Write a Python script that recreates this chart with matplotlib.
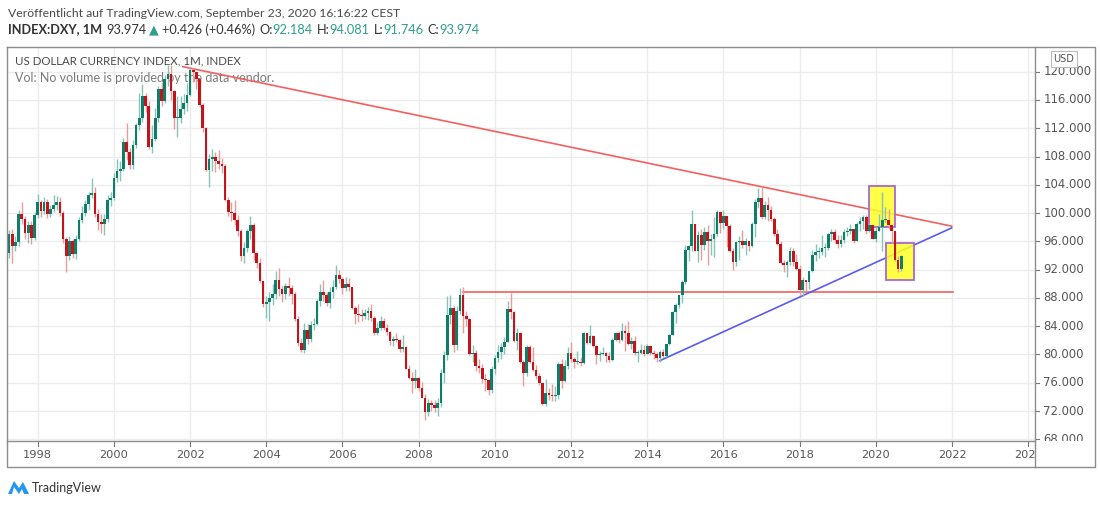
import matplotlib
matplotlib.use("Agg")
import matplotlib.pyplot as plt
import matplotlib.transforms as mtransforms
from matplotlib.patches import Rectangle, Polygon

# monthly candles of the DXY index, first one is April 1997
start_year = 1997
start_month = 4
first_open = 94.4

closes = [
    97.1, 95.3, 95.9, 99.8, 99.2, 97.2, 98.3, 96.5, 99.7,                      # 1997
    101.5, 100.3, 101.6, 99.8, 100.6, 101.2, 101.6, 100.0, 96.4, 93.9, 96.0, 94.2,   # 1998
    96.3, 99.0, 100.0, 101.3, 102.6, 102.9, 99.9, 98.7, 98.4, 99.2, 101.9, 102.1,    # 1999
    104.9, 105.9, 106.3, 110.1, 108.7, 106.8, 109.6, 112.4, 113.4, 116.5, 115.2, 109.4,  # 2000
    110.5, 113.4, 117.6, 115.8, 119.0, 119.7, 117.2, 113.5, 113.5, 114.7, 115.5, 116.7,  # 2001
    120.3, 119.9, 119.0, 115.3, 112.0, 106.1, 107.6, 107.9, 107.3, 107.0, 106.7, 101.9,  # 2002
    100.2, 100.0, 99.0, 97.4, 93.9, 95.0, 97.4, 98.3, 94.4, 93.0, 90.4, 87.1,        # 2003
    87.4, 88.0, 88.5, 90.6, 89.2, 88.6, 89.7, 89.4, 88.6, 85.0, 81.6, 80.6,          # 2004
    83.4, 82.2, 84.1, 84.3, 87.5, 88.9, 88.4, 87.3, 88.8, 89.5, 91.2, 90.7,          # 2005
    89.4, 90.0, 89.6, 86.6, 85.7, 85.6, 85.4, 85.8, 86.1, 85.2, 83.0, 83.7,          # 2006
    84.7, 83.8, 83.2, 81.9, 82.2, 82.1, 80.8, 81.0, 78.0, 76.7, 76.2, 76.7,          # 2007
    75.3, 73.9, 71.8, 73.2, 72.9, 72.4, 73.2, 77.4, 79.9, 85.6, 86.6, 81.3,          # 2008
    86.2, 88.4, 85.4, 85.0, 80.1, 80.2, 78.4, 78.1, 76.6, 76.4, 75.0, 77.9,          # 2009
    79.5, 80.4, 81.0, 81.8, 86.5, 86.0, 81.9, 83.1, 78.9, 77.4, 81.0, 79.0,          # 2010
    77.8, 76.9, 75.9, 73.0, 74.6, 74.3, 74.1, 74.2, 78.6, 76.3, 78.4, 80.2,          # 2011
    79.4, 78.9, 79.0, 78.8, 83.1, 81.6, 82.6, 81.2, 79.9, 80.1, 80.2, 79.8,          # 2012
    79.2, 82.1, 83.0, 82.0, 83.3, 83.1, 81.5, 81.9, 80.2, 80.2, 80.7, 80.0,          # 2013
    81.2, 80.2, 80.1, 79.5, 80.4, 79.8, 81.5, 82.8, 86.0, 87.0, 88.4, 90.3,          # 2014
    94.8, 95.3, 98.4, 94.6, 96.9, 95.5, 97.3, 96.0, 96.3, 97.0, 100.2, 98.6,         # 2015
    99.6, 98.2, 94.6, 93.1, 95.9, 96.1, 95.5, 96.0, 95.4, 98.4, 101.5, 102.2,        # 2016
    99.5, 101.1, 100.4, 99.1, 97.0, 95.6, 92.9, 92.7, 93.1, 94.6, 93.1, 92.1,        # 2017
    89.1, 90.6, 90.2, 91.8, 94.0, 94.5, 94.5, 95.1, 95.1, 97.1, 97.3, 96.2,          # 2018
    95.6, 96.2, 97.3, 97.5, 97.8, 96.1, 98.5, 98.9, 99.4, 97.4, 98.3, 96.4,          # 2019
    97.4, 98.1, 99.0, 99.0, 98.3, 97.4, 93.3, 92.1, 93.974,                          # 2020
]

highs = [
    97.6, 97.7, 96.8, 100.4, 101.6, 99.6, 98.9, 98.9, 100.1,
    102.7, 101.9, 102.3, 102.0, 101.2, 102.5, 102.4, 102.3, 100.3, 96.6, 96.8, 96.3,
    96.9, 99.5, 101.0, 101.8, 103.0, 105.0, 103.7, 100.6, 99.9, 99.8, 102.5, 103.0,
    105.6, 107.6, 107.3, 110.6, 112.7, 109.2, 110.3, 112.8, 117.0, 118.3, 117.0, 115.8,
    112.4, 114.8, 118.0, 118.5, 119.6, 121.0, 121.0, 117.4, 116.6, 116.5, 116.9, 118.4,
    120.5, 120.5, 120.0, 119.1, 115.6, 112.2, 108.3, 109.1, 108.6, 108.9, 107.8, 106.9,
    102.3, 101.5, 101.9, 99.7, 97.8, 95.9, 97.8, 99.6, 98.6, 94.5, 93.6, 90.4,
    88.2, 88.9, 89.9, 91.8, 92.3, 89.7, 90.1, 90.9, 89.8, 88.8, 85.4, 82.3,
    84.5, 84.3, 84.7, 85.2, 87.8, 89.9, 90.5, 88.9, 89.5, 90.5, 92.6, 92.0,
    91.0, 90.9, 90.8, 89.6, 86.8, 87.2, 86.5, 86.4, 86.7, 87.1, 85.5, 84.6,
    85.5, 85.1, 84.3, 83.3, 82.6, 83.0, 82.2, 82.8, 81.2, 78.5, 77.5, 77.9,
    76.8, 76.1, 74.4, 73.7, 73.6, 73.5, 73.8, 77.9, 80.5, 88.3, 88.4, 86.9,
    86.9, 89.4, 89.6, 86.1, 85.2, 81.4, 80.7, 79.3, 78.6, 77.2, 76.5, 78.3,
    79.9, 81.3, 81.6, 82.5, 87.5, 88.7, 86.2, 83.7, 83.2, 79.2, 81.4, 81.4,
    81.0, 78.5, 77.4, 76.0, 76.6, 75.3, 75.8, 75.5, 78.9, 79.4, 79.2, 81.0,
    81.8, 79.6, 80.5, 79.7, 83.2, 83.0, 84.1, 82.7, 81.4, 80.5, 81.1, 80.4,
    80.4, 82.3, 83.2, 83.3, 84.5, 84.2, 84.8, 82.5, 82.6, 80.6, 81.5, 81.3,
    81.5, 81.3, 80.7, 80.4, 80.6, 80.8, 81.5, 82.9, 86.1, 87.3, 88.4, 90.5,
    95.5, 95.5, 100.4, 98.3, 97.5, 97.8, 98.0, 98.3, 97.0, 99.4, 100.5, 100.3,
    100.5, 99.1, 98.4, 95.1, 96.1, 96.7, 97.6, 96.5, 96.1, 98.7, 102.0, 103.6,
    103.8, 101.7, 102.3, 101.0, 99.4, 97.7, 96.0, 93.4, 93.4, 95.2, 95.1, 94.2,
    92.6, 91.0, 90.6, 91.8, 94.8, 95.6, 95.2, 96.9, 95.7, 97.2, 97.7, 97.7,
    96.9, 96.9, 97.7, 98.0, 98.4, 97.8, 98.7, 99.4, 99.7, 99.7, 98.6, 98.3,
    98.0, 99.9, 103.0, 100.9, 100.6, 97.8, 97.5, 93.99, 94.081,
]

lows = [
    93.6, 93.0, 94.6, 95.4, 98.5, 96.4, 95.8, 95.6, 96.2,
    99.3, 99.5, 99.8, 99.3, 99.4, 100.1, 100.4, 99.6, 95.8, 91.6, 93.3, 93.6,
    93.5, 96.0, 98.6, 99.6, 100.4, 102.1, 99.4, 97.6, 97.2, 96.9, 98.8, 101.0,
    101.8, 104.4, 104.6, 105.9, 107.5, 106.3, 106.3, 109.2, 111.7, 112.9, 114.3, 109.1,
    108.5, 110.2, 112.9, 115.1, 115.6, 118.0, 116.0, 111.9, 110.8, 112.8, 114.0, 114.5,
    116.5, 118.6, 117.5, 115.0, 111.5, 105.9, 103.7, 105.9, 105.8, 106.2, 105.7, 101.7,
    99.6, 98.9, 98.3, 96.7, 93.2, 93.0, 94.5, 96.4, 93.4, 92.2, 90.1, 86.7,
    85.2, 84.8, 87.0, 87.8, 88.3, 87.4, 87.8, 88.2, 87.2, 84.7, 81.2, 80.4,
    80.2, 81.5, 81.7, 83.4, 84.2, 86.9, 87.6, 86.8, 86.6, 88.0, 89.3, 90.1,
    88.5, 89.0, 89.0, 86.5, 84.3, 84.6, 84.8, 85.0, 84.9, 84.7, 82.7, 82.7,
    83.4, 83.5, 82.7, 81.3, 81.2, 81.8, 80.3, 80.4, 77.9, 76.5, 74.5, 75.3,
    74.9, 73.8, 70.7, 71.3, 72.0, 71.9, 71.3, 72.6, 76.0, 79.2, 84.3, 80.4,
    80.7, 85.7, 83.0, 84.0, 79.9, 79.0, 77.7, 77.4, 76.0, 74.9, 74.2, 74.5,
    77.3, 78.9, 79.3, 80.0, 81.7, 85.0, 81.7, 80.7, 78.8, 75.6, 76.9, 78.8,
    77.6, 76.5, 75.7, 72.9, 72.7, 73.5, 73.4, 73.4, 73.7, 75.2, 76.1, 77.9,
    78.9, 78.1, 78.6, 78.4, 78.7, 81.5, 81.5, 81.1, 78.6, 79.1, 79.9, 79.0,
    78.9, 79.1, 81.9, 81.6, 81.9, 80.5, 81.3, 80.8, 79.9, 78.9, 80.1, 79.8,
    80.0, 79.9, 79.3, 78.9, 78.9, 79.7, 79.7, 81.4, 82.7, 84.5, 86.6, 87.3,
    90.0, 93.2, 94.7, 94.6, 93.1, 93.4, 94.8, 92.6, 94.1, 93.8, 96.7, 97.2,
    97.7, 95.2, 94.5, 91.9, 92.5, 93.4, 95.1, 94.1, 94.6, 95.2, 96.6, 100.7,
    99.2, 99.2, 98.9, 98.9, 96.8, 95.5, 92.8, 91.6, 91.0, 92.6, 92.5, 91.9,
    88.4, 88.3, 89.0, 89.2, 91.6, 93.2, 93.7, 94.1, 93.8, 94.8, 96.0, 95.7,
    95.0, 95.2, 95.7, 96.7, 97.0, 95.8, 96.0, 97.4, 97.8, 97.0, 97.3, 96.4,
    95.9, 97.4, 94.6, 98.8, 97.8, 95.7, 93.2, 91.7, 91.746,
]

# drawings on the chart (decimal year, price)
red_trend_dates = [2001.81, 2021.99]
red_trend_prices = [120.71, 98.15]
blue_trend_dates = [2014.33, 2021.99]
blue_trend_prices = [79.12, 97.9]
support_dates = [2009.16, 2022.03]
support_prices = [88.79, 88.79]
box_dates = [(2019.83, 2020.50), (2020.26, 2021.00)]
box_prices = [(97.99, 103.87), (90.53, 95.72)]

price_ticks = list(range(68, 121, 4))
year_ticks = list(range(1998, 2025, 2))

W, H = 1100, 505
GREEN = "#0f7d68"
RED = "#c2141a"
GREEN_WICK = "#86c4b7"
RED_WICK = "#ee9a9a"
GRID = "#ececec"
FRAME = "#8c8c8c"
TEAL = "#2f9e8c"
NARROW = ["Liberation Sans Narrow", "DejaVu Sans"]
HEAD = ["Lato", "DejaVu Sans"]

XLIM = (1997.194, 2024.178)
YLIM = (67.76, 123.49)


def rect(x0, y0, x1, y1):
    # pixel box -> figure fraction
    return [x0 / W, 1 - y1 / H, (x1 - x0) / W, (y1 - y0) / H]


fig = plt.figure(figsize=(W / 100, H / 100), dpi=100)
fig.patch.set_facecolor("white")

# ---- main price pane
ax = fig.add_axes(rect(7, 47, 1035, 441))
ax.set_xlim(*XLIM)
ax.set_ylim(*YLIM)
ax.set_xticks(year_ticks)
ax.set_yticks(price_ticks)
ax.tick_params(length=0, labelleft=False, labelbottom=False)
ax.grid(color=GRID, lw=1)
ax.set_axisbelow(True)
for s in ax.spines.values():
    s.set_visible(False)

dates = [start_year + (start_month - 1 + i) / 12 for i in range(len(closes))]
opens = [first_open] + closes[:-1]
up = [c >= o for o, c in zip(opens, closes)]
hi = [max(h, o, c) for h, o, c in zip(highs, opens, closes)]
lo = [min(l, o, c) for l, o, c in zip(lows, opens, closes)]

ax.vlines(dates, lo, hi, colors=[GREEN_WICK if u else RED_WICK for u in up],
          lw=1, zorder=4)
bottoms = [min(o, c) for o, c in zip(opens, closes)]
heights = [max(abs(c - o), 0.12) for o, c in zip(opens, closes)]
ax.bar(dates, heights, bottom=bottoms, width=0.07,
       color=[GREEN if u else RED for u in up], lw=0, zorder=5)

ax.plot(red_trend_dates, red_trend_prices, color="#f45f5f", lw=1.2, zorder=2)
ax.plot(support_dates, support_prices, color="#f45f5f", lw=1.2, zorder=2)
ax.plot(blue_trend_dates, blue_trend_prices, color="#5a5af0", lw=1.2, zorder=2)
for (d0, d1), (p0, p1) in zip(box_dates, box_prices):
    ax.add_patch(Rectangle((d0, p0), d1 - d0, p1 - p0, facecolor=(1, 1, 0.15, 0.85),
                           edgecolor="#a768d4", lw=1.3, zorder=3))

ax.text(0.008, 0.965, "US DOLLAR CURRENCY INDEX, 1M, INDEX", transform=ax.transAxes,
        fontsize=8.3, color="#4a4a4a", family=HEAD, va="center", zorder=1)
ax.text(0.008, 0.921, "Vol: No volume is provided by the data vendor.",
        transform=ax.transAxes, fontsize=9.0, color="#7a7a7a", family=HEAD,
        va="center", zorder=1)

# ---- price scale
pax = fig.add_axes(rect(1035, 47, 1095, 441))
pax.set_ylim(*YLIM)
pax.set_xlim(0, 1)
pax.axis("off")
blend = mtransforms.blended_transform_factory(pax.transAxes, pax.transData)
for v in price_ticks:
    pax.plot([0, 0.07], [v, v], color="#777777", lw=0.8, transform=blend, clip_on=True)
    pax.text(0.14, v, f"{v:.3f}", transform=blend, fontsize=8.4, color="#555555",
             family=NARROW, va="center", ha="left", clip_on=True)

# ---- time scale
tax = fig.add_axes(rect(7, 441, 1035, 467))
tax.set_xlim(*XLIM)
tax.set_ylim(0, 1)
tax.axis("off")
for yr in year_ticks:
    tax.plot([yr, yr], [1, 0.82], color="#777777", lw=0.8, clip_on=True)
    tax.text(yr, 0.45, str(yr), fontsize=8.2, color="#555555", family=NARROW,
             ha="center", va="center", clip_on=True)

# ---- overlay in pixel coordinates: frame, header, logo
ov = fig.add_axes([0, 0, 1, 1])
ov.set_xlim(0, W)
ov.set_ylim(H, 0)
ov.axis("off")
ov.patch.set_alpha(0)

ov.plot([7, 1095, 1095, 7, 7], [47, 47, 467, 467, 47], color=FRAME, lw=1)
ov.plot([7, 1035], [441, 441], color=FRAME, lw=1)
ov.plot([1035, 1035], [47, 467], color=FRAME, lw=1)

ov.add_patch(Rectangle((1051, 51), 26, 16, facecolor="white", edgecolor="#bbbbbb",
                       lw=0.8, zorder=6))
ov.text(1064, 59, "USD", fontsize=7, color="#555555", family=NARROW,
        ha="center", va="center", zorder=7)

ov.text(8, 13.5, "Veröffentlicht auf TradingView.com, September 23, 2020 16:16:22 CEST",
        fontsize=8.8, color="#4a4a4a", family=HEAD, va="center")

renderer = fig.canvas.get_renderer()
pieces = [
    ("INDEX:DXY, 1M", "#333333", "bold", 4),
    ("93.974", "#333333", "normal", 3),
    ("▲", TEAL, "normal", 3),
    ("+0.426 (+0.46%)", "#333333", "normal", 4),
    ("O:", "#333333", "normal", 0),
    ("92.184", TEAL, "normal", 4),
    ("H:", "#333333", "normal", 0),
    ("94.081", TEAL, "normal", 4),
    ("L:", "#333333", "normal", 0),
    ("91.746", TEAL, "normal", 4),
    ("C:", "#333333", "normal", 0),
    ("93.974", TEAL, "normal", 0),
]
x = 8
for s, col, wt, gap in pieces:
    t = ov.text(x, 29.5, s, fontsize=9.2, color=col, weight=wt, family=HEAD,
                va="center", ha="left")
    x += t.get_window_extent(renderer).width + gap

ov.add_patch(Polygon([(8, 494), (14, 481), (19, 488), (23, 482), (29, 494),
                      (24, 494), (22, 489), (19, 494), (14, 487), (12, 494)],
                     closed=True, facecolor="#2196f3", edgecolor="none"))
ov.text(32, 487.5, "TradingView", fontsize=9, color="#333333", family=HEAD,
        va="center")

fig.savefig("out.png", dpi=100)
